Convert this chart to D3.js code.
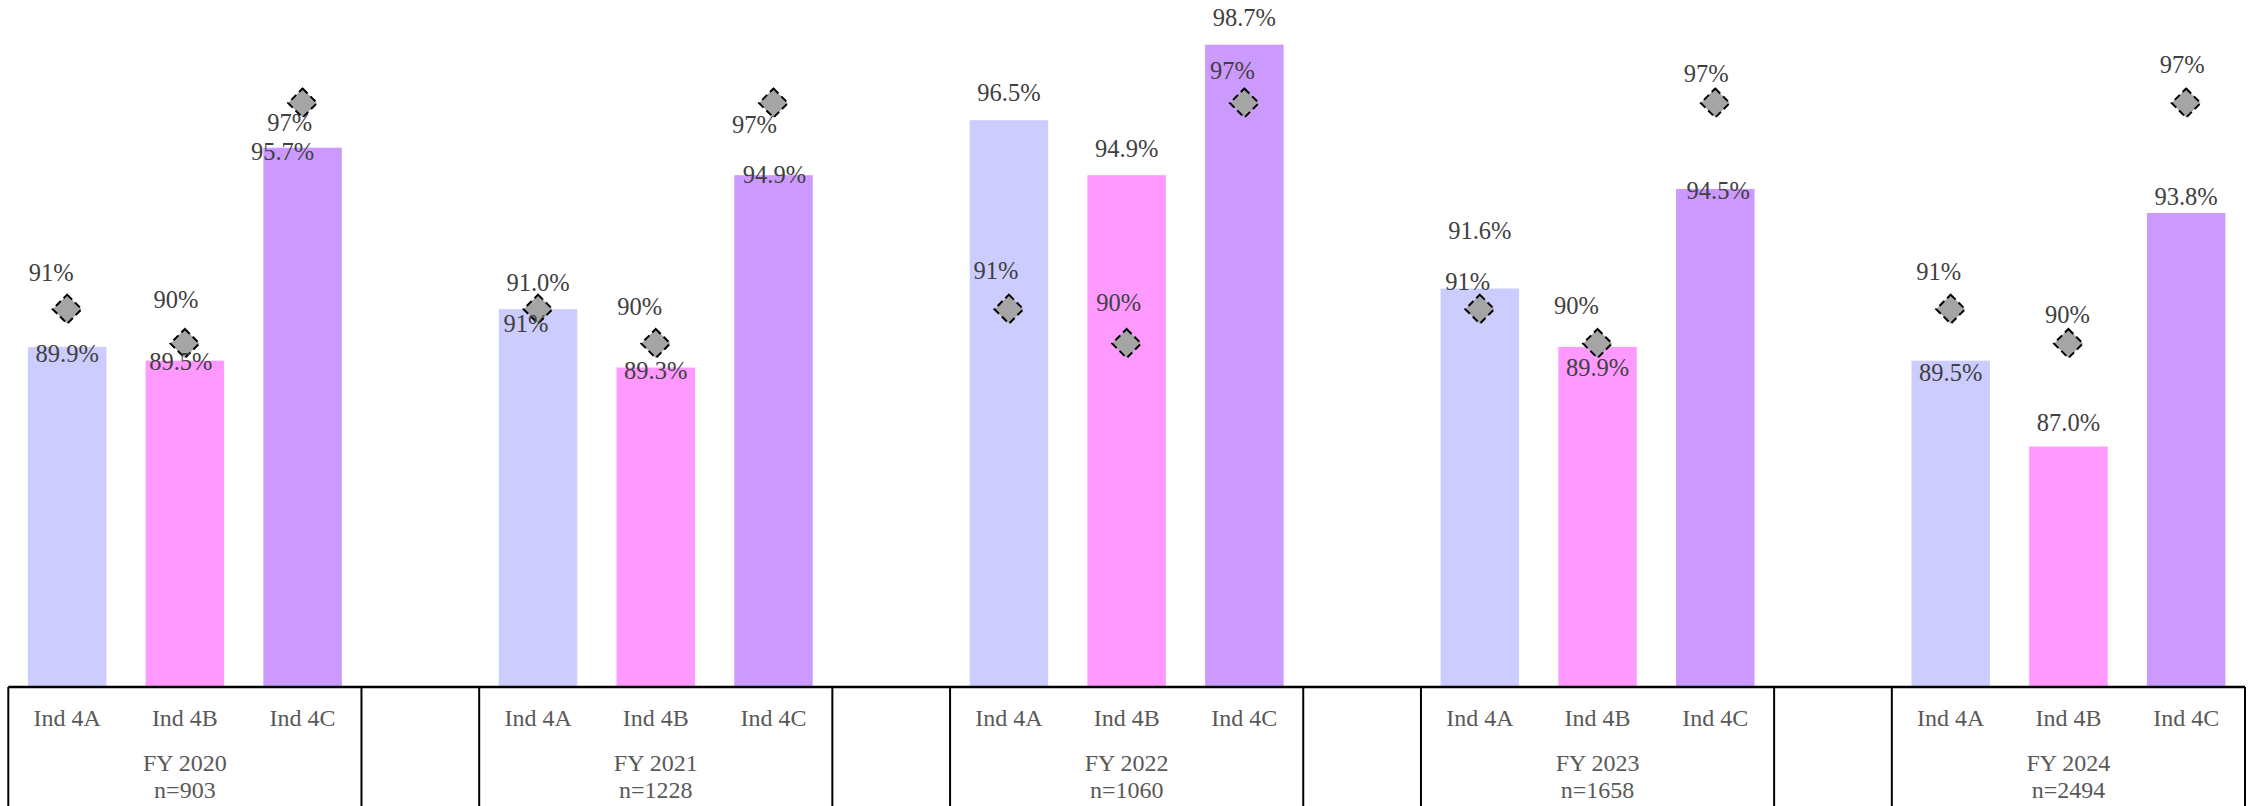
<!DOCTYPE html>
<html>
<head>
<meta charset="utf-8">
<script src="https://cdn.jsdelivr.net/npm/d3@7"></script>
<style>
  html, body { margin: 0; padding: 0; background: #ffffff; }
  svg { display: block; }
</style>
</head>
<body>
<svg id="chart" width="2254" height="806"></svg>
<script>
// ---------------- DATA ----------------
const years = ["FY 2020", "FY 2021", "FY 2022", "FY 2023", "FY 2024"];
const sampleSizes = ["n=903", "n=1228", "n=1060", "n=1658", "n=2494"];
const indicators = ["Ind 4A", "Ind 4B", "Ind 4C"];

const ind4A = [89.9, 91.0, 96.5, 91.6, 89.5];
const ind4B = [89.5, 89.3, 94.9, 89.9, 87.0];
const ind4C = [95.7, 94.9, 98.7, 94.5, 93.8];

const target4A = [91, 91, 91, 91, 91];
const target4B = [90, 90, 90, 90, 90];
const target4C = [97, 97, 97, 97, 97];

const yDomain = [80, 100];

// ---------------- LAYOUT / STYLE ----------------
const W = 2254, H = 806;
const plotLeft = 8.3, plotRight = 2245, plotTop = 0, baseline = 687;
const barColors = ["#ccccff", "#ff99ff", "#cc99ff"];
const labelColor = "#404040";
const axisTextColor = "#595959";
const fontFamily = "'Liberation Serif', 'Times New Roman', serif";

// label placement tweaks [dx, dy] per year (rows) and indicator (cols)
// bar labels: dy is baseline relative to bar top
const barLabelOffsets = [
  [[0, 15], [-4, 9], [-20, 12]],
  [[0, -18], [0, 11], [1, 8]],
  [[0, -19], [0, -18], [0, -19]],
  [[0, -50], [0, 29], [3, 10]],
  [[0, 20], [0, -16], [0, -8]]
];
// target labels: dy is baseline relative to marker centre
const targetLabelOffsets = [
  [[-16, -28], [-9, -36], [-13, 28]],
  [[-12, 23], [-16, -29], [-19, 30]],
  [[-13, -30], [-8, -33], [-12, -24]],
  [[-12, -19], [-21, -30], [-9, -21]],
  [[-12, -29], [-1, -21], [-4, -30]]
];

// ---------------- BUILD ----------------
const barSeries = [ind4A, ind4B, ind4C];
const targetSeries = [target4A, target4B, target4C];

const slots = [];
years.forEach((y, yi) => {
  indicators.forEach(ind => slots.push(y + "|" + ind));
  if (yi < years.length - 1) slots.push("gap|" + yi);
});

const x = d3.scaleBand()
  .domain(slots)
  .range([plotLeft, plotRight])
  .paddingInner(1 / 3)
  .paddingOuter(1 / 6);

const y = d3.scaleLinear().domain(yDomain).range([baseline, plotTop]);

const records = [];
years.forEach((yr, yi) => {
  indicators.forEach((ind, ii) => {
    records.push({
      year: yr, yi, ind, ii,
      key: yr + "|" + ind,
      value: barSeries[ii][yi],
      target: targetSeries[ii][yi]
    });
  });
});

const svg = d3.select("#chart");
const g = svg.append("g");

// bars
g.selectAll("rect.bar")
  .data(records)
  .join("rect")
  .attr("class", "bar")
  .attr("x", d => x(d.key))
  .attr("width", x.bandwidth())
  .attr("y", d => y(d.value))
  .attr("height", d => baseline - y(d.value))
  .attr("fill", d => barColors[d.ii]);

// target markers (diamonds)
const diamond = d3.symbol().type(d3.symbolSquare).size(420);
g.selectAll("path.target")
  .data(records)
  .join("path")
  .attr("class", "target")
  .attr("d", diamond)
  .attr("transform", d => `translate(${x(d.key) + x.bandwidth() / 2},${y(d.target)}) rotate(45)`)
  .attr("fill", "#a5a5a5")
  .attr("stroke", "#000")
  .attr("stroke-width", 2)
  .attr("stroke-dasharray", "7,4");

// bar value labels
g.selectAll("text.vlabel")
  .data(records)
  .join("text")
  .attr("class", "vlabel")
  .attr("x", d => x(d.key) + x.bandwidth() / 2 + barLabelOffsets[d.yi][d.ii][0])
  .attr("y", d => y(d.value) + barLabelOffsets[d.yi][d.ii][1])
  .attr("text-anchor", "middle")
  .attr("font-family", fontFamily)
  .attr("font-size", 24.5)
  .attr("fill", labelColor)
  .text(d => d.value.toFixed(1) + "%");

// target labels
g.selectAll("text.tlabel")
  .data(records)
  .join("text")
  .attr("class", "tlabel")
  .attr("x", d => x(d.key) + x.bandwidth() / 2 + targetLabelOffsets[d.yi][d.ii][0])
  .attr("y", d => y(d.target) + targetLabelOffsets[d.yi][d.ii][1])
  .attr("text-anchor", "middle")
  .attr("font-family", fontFamily)
  .attr("font-size", 24.5)
  .attr("fill", labelColor)
  .text(d => d.target + "%");

// ---------------- MULTI-LEVEL CATEGORY AXIS ----------------
const axisG = svg.append("g").attr("transform", `translate(0,${baseline})`);
const xAxis = d3.axisBottom(x)
  .tickSize(0)
  .tickPadding(0)
  .tickFormat(k => k.startsWith("gap") ? "" : k.split("|")[1]);
axisG.call(xAxis);
axisG.select(".domain").remove();
axisG.selectAll(".tick text")
  .attr("y", 39)
  .attr("dy", null)
  .attr("font-family", fontFamily)
  .attr("font-size", 24)
  .attr("fill", axisTextColor);

// axis line
svg.append("line")
  .attr("x1", plotLeft).attr("x2", plotRight)
  .attr("y1", baseline).attr("y2", baseline)
  .attr("stroke", "#000").attr("stroke-width", 2.5);

// group boundaries
const step = x.step();
const boundaries = [];
slots.forEach((s, i) => {
  if (i === 0) boundaries.push(plotLeft);
  const isGap = s.startsWith("gap");
  const next = slots[i + 1];
  if (isGap || !next || next.startsWith("gap")) boundaries.push(plotLeft + step * (i + 1));
});
svg.selectAll("line.sep")
  .data(boundaries)
  .join("line")
  .attr("class", "sep")
  .attr("x1", d => d).attr("x2", d => d)
  .attr("y1", baseline).attr("y2", H)
  .attr("stroke", "#000").attr("stroke-width", 2);

// group labels
const groupCenters = years.map(yr => {
  const k = yr + "|" + indicators[1];
  return x(k) + x.bandwidth() / 2;
});
svg.selectAll("text.year")
  .data(years)
  .join("text")
  .attr("class", "year")
  .attr("x", (d, i) => groupCenters[i])
  .attr("y", baseline + 84)
  .attr("text-anchor", "middle")
  .attr("font-family", fontFamily)
  .attr("font-size", 24)
  .attr("fill", axisTextColor)
  .text(d => d);
svg.selectAll("text.nsize")
  .data(sampleSizes)
  .join("text")
  .attr("class", "nsize")
  .attr("x", (d, i) => groupCenters[i])
  .attr("y", baseline + 111)
  .attr("text-anchor", "middle")
  .attr("font-family", fontFamily)
  .attr("font-size", 24)
  .attr("fill", axisTextColor)
  .text(d => d);
</script>
</body>
</html>
